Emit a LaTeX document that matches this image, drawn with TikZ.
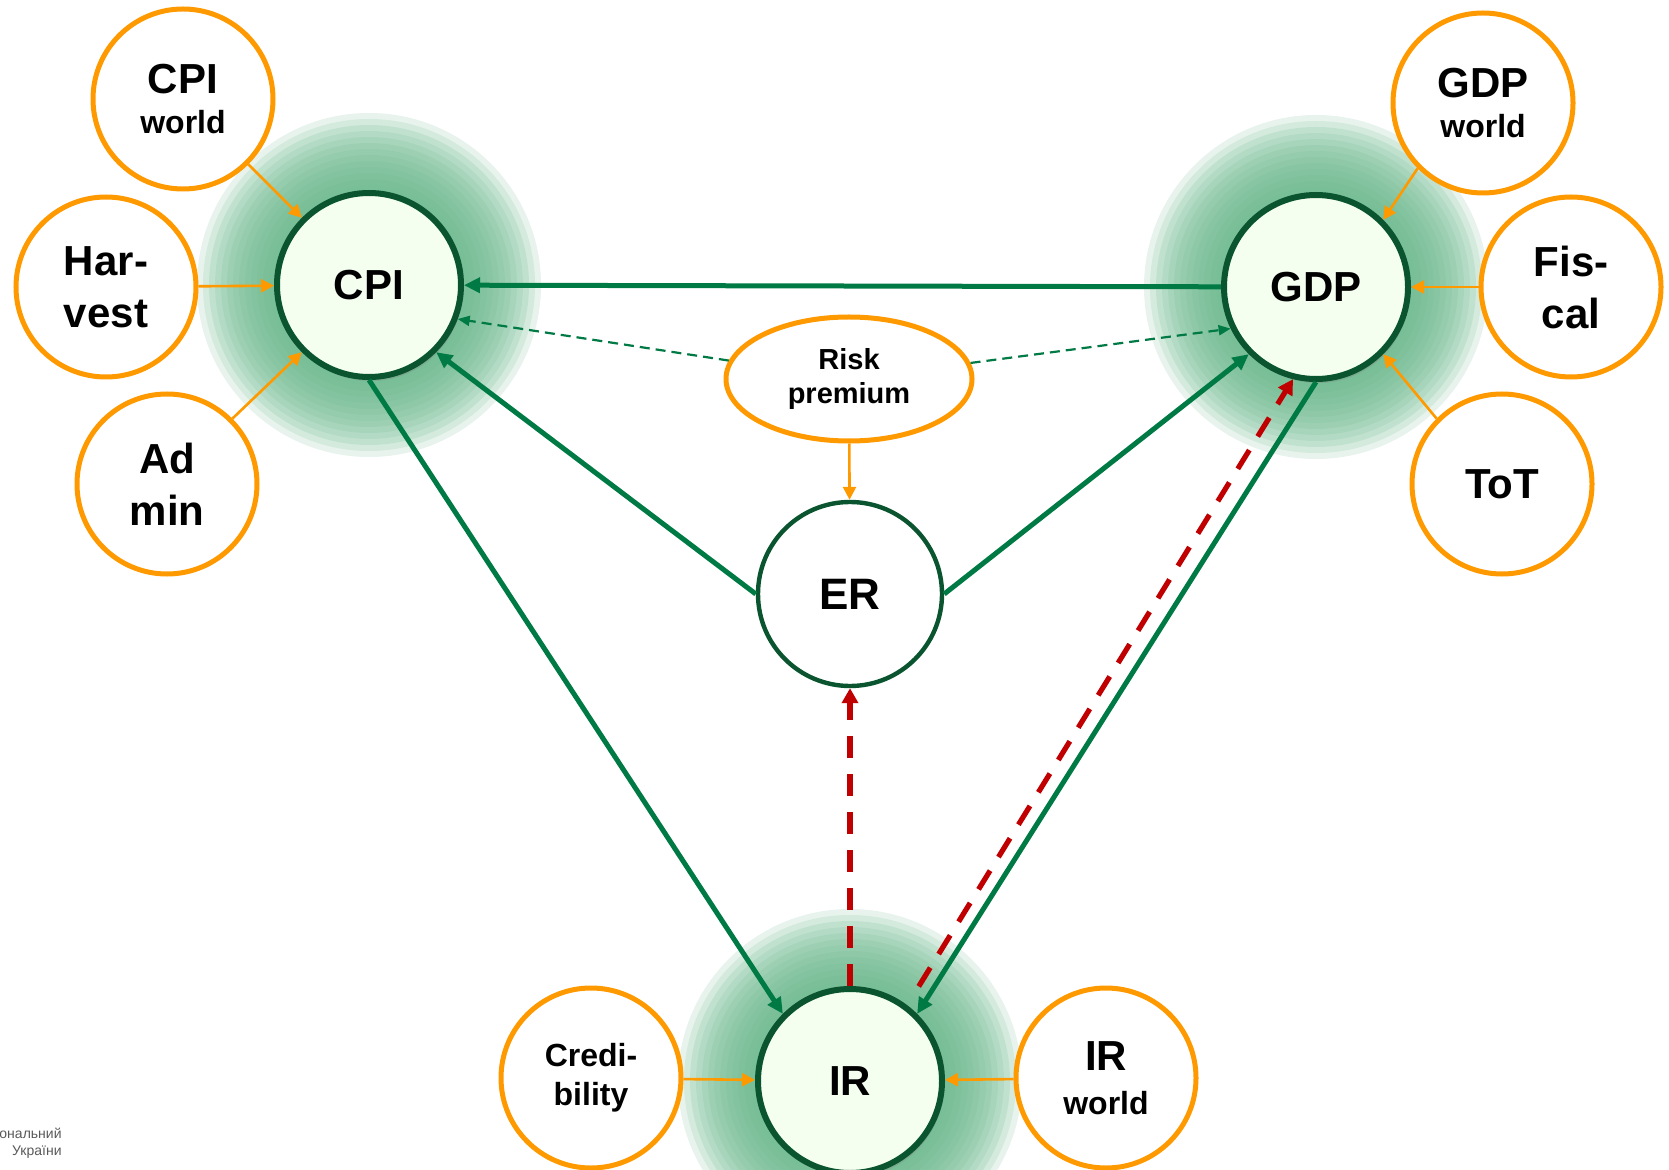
\documentclass[tikz,border=0pt]{standalone}
\usepackage{fontspec}
\setmainfont{Liberation Sans}
\usepackage{tikz}
\usetikzlibrary{arrows.meta,positioning,shapes.geometric,backgrounds,shadows}
\definecolor{nbuorange}{RGB}{255,153,0}
\definecolor{nbugreen}{RGB}{0,122,68}
\definecolor{nbudark}{RGB}{10,85,48}
\definecolor{nbured}{RGB}{192,0,0}
\definecolor{glowgreen}{RGB}{104,182,138}
\definecolor{corefill}{RGB}{244,255,240}
\newcommand{\wsize}{\fontsize{16}{19}\selectfont}

\begin{document}
\begin{tikzpicture}[
  x=0.5pt, y=-0.5pt,
  core/.style={circle,draw=nbudark,line width=3pt,fill=corefill,minimum size=92pt,
               inner sep=0pt,font=\bfseries\fontsize{21}{25}\selectfont,
               drop shadow={shadow xshift=1pt,shadow yshift=-2pt,opacity=.3}},
  ext/.style={circle,draw=nbuorange,line width=2.5pt,fill=white,minimum size=90pt,
              inner sep=0pt,align=center,font=\bfseries\fontsize{21}{26}\selectfont},
  flow/.style={-{Triangle[length=8pt,width=7.5pt]},line width=2.5pt,draw=nbugreen},
  hint/.style={-{Triangle[length=6pt,width=5pt]},line width=1.1pt,draw=nbugreen,
               dash pattern=on 5pt off 3pt},
  feed/.style={-{Triangle[length=6.5pt,width=6.5pt]},line width=1.3pt,draw=nbuorange},
  policy/.style={-{Triangle[length=7.5pt,width=8pt]},line width=2.6pt,draw=nbured,
                 dash pattern=on 11pt off 8pt},
  logo/.style={font=\fontsize{7}{8}\selectfont,text=black!65,inner sep=0pt}
]
\useasboundingbox (0,0) rectangle (1669,1170);
% main variables
\node[core] (cpi) at (369,285) {CPI};
\node[core] (gdp) at (1316,287) {GDP};
\node[core] (ir) at (850,1081) {IR};
\node[circle,draw=nbudark,line width=2.2pt,fill=white,minimum size=92pt,inner sep=0pt,
      font=\bfseries\fontsize{22}{25}\selectfont] (er) at (850,594) {ER};
\node[ellipse,draw=nbuorange,line width=2.5pt,fill=white,minimum width=123pt,
      minimum height=62pt,inner sep=0pt,align=center,
      font=\bfseries\fontsize{14.5}{17}\selectfont] (risk) at (849,379) {Risk\\premium};
% exogenous
\node[ext] (cpiw) at (183,99) {CPI\\[-6pt]{\wsize world}};
\node[ext] (harv) at (106,287) {Har-\\vest};
\node[ext] (admin) at (167,484) {Ad\\min};
\node[ext] (gdpw) at (1483,103) {GDP\\[-6pt]{\wsize world}};
\node[ext] (fisc) at (1571,287) {Fis-\\cal};
\node[ext] (tot) at (1502,484) {ToT};
\node[ext,font=\bfseries\fontsize{16}{19.5}\selectfont] (cred) at (591,1078) {Credi-\\bility};
\node[ext] (irw) at (1106,1078) {IR\\[-4pt]{\wsize world}};
\node[logo,anchor=east] (bank) at (62,1133) {ональний};
\node[logo,anchor=east] (ukr) at (62,1152) {України};
% glow
\begin{scope}[on background layer]
  \foreach \n in {cpi,gdp,ir}
    \foreach \r in {86,83,...,47}
      \fill[glowgreen,opacity=.16] (\n) circle[radius=\r pt];
\end{scope}
\draw[feed] (cpiw.south east) -- (cpi.north west);
\draw[feed] (harv) -- (cpi);
\draw[feed] (admin.north east) -- (cpi.south west);
\draw[feed] (gdpw.south west) -- (gdp.north east);
\draw[feed] (fisc) -- (gdp);
\draw[feed] (tot.north west) -- (gdp.south east);
\draw[feed] (cred) -- (ir);
\draw[feed] (irw) -- (ir);
\draw[feed] (risk) -- (er);
\draw[hint] (risk) -- (cpi.-21);
\draw[hint] (risk) -- (gdp.206);
\draw[flow] (gdp) -- (cpi);
\draw[flow] (er.west) -- (cpi.south east);
\draw[flow] (er.east) -- (gdp.south west);
\draw[flow] (cpi.south) -- (ir.north west);
\draw[flow] (gdp.south) -- (ir.north east);
\draw[policy] (ir.north) -- (er.south);
\draw[policy,shorten <=11pt] (ir.53) -- (gdp.256);
\end{tikzpicture}
\end{document}
